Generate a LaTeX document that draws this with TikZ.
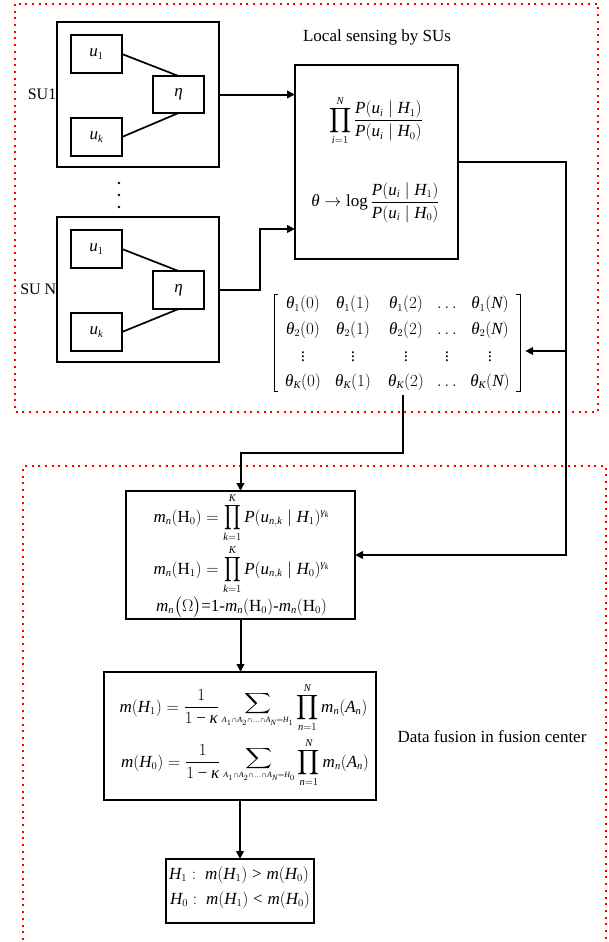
\RequirePackage{fix-cm}
\documentclass[tikz,border=0pt]{standalone}
\usepackage{amsmath}
\usepackage{graphicx}
\usepackage{fontspec}
\setmainfont{Liberation Serif}
\newfontfamily\libser{Liberation Serif}[NFSSFamily=libser]
\DeclareSymbolFont{tlet}{TU}{libser}{m}{it}
\DeclareSymbolFont{trm}{TU}{libser}{m}{n}
\DeclareMathSizes{17}{17}{10.5}{8}
\makeatletter
\count@=`a
\loop \Umathcode\count@="7 \symtlet \count@ \ifnum\count@<`z \advance\count@ 1 \repeat
\count@=`A
\loop \Umathcode\count@="7 \symtlet \count@ \ifnum\count@<`Z \advance\count@ 1 \repeat
\count@=`0
\loop \Umathcode\count@="7 \symtrm \count@ \ifnum\count@<`9 \advance\count@ 1 \repeat
\makeatother
\Umathcode`(="4 \symtrm `(
\Umathcode`)="5 \symtrm `)
\Umathcode`=="3 \symtrm `=
\Umathcode`<="3 \symtrm `<
\Umathcode`>="3 \symtrm `>
\Umathcode`-="2 \symtrm "2212
\Umathchardef\theta="0 \symtlet "03B8
\Umathchardef\eta="0 \symtlet "03B7
\Umathchardef\kappa="0 \symtlet "03BA
\Umathchardef\gamma="0 \symtlet "03B3
\Umathchardef\Omega="0 \symtrm "03A9
\Umathchardef\cap="2 \symtrm "2229
% operator with limits stacked: size, xscale, op, lower, upper
\newcommand{\myopstack}[5]{\mathop{\vcenter{\offinterlineskip\halign{\hfil##\hfil\cr%
$\scriptstyle #5$\cr\noalign{\kern2pt}%
{\fontsize{#1}{#1}\selectfont\scalebox{#2}[1]{$\displaystyle#3$}}\cr\noalign{\kern2pt}%
$\scriptstyle #4$\cr}}}}
\usetikzlibrary{arrows.meta}
\begin{document}
\begin{tikzpicture}[x=1pt,y=-1pt,
  box/.style={draw, line width=2pt, inner sep=0pt, outer sep=0pt},
  conn/.style={line width=2pt},
  arr/.style={conn, -{Triangle[length=8pt,width=7.5pt]}},
  link/.style={line width=1.7pt},
  redbox/.style={draw=red, line width=2pt, dash pattern=on 2pt off 4.7pt},
  lbl/.style={font=\fontsize{17}{20}\selectfont, inner sep=0pt},
  sulbl/.style={font=\fontsize{16}{19}\selectfont, inner sep=0.5pt, anchor=east},
  fml/.style={font=\fontsize{17}{20}\selectfont, inner sep=0pt, anchor=base},
  ubox/.style={box, font=\fontsize{17}{20}\selectfont, minimum width=51pt, minimum height=38pt},
  ent/.style={font=\fontsize{17}{20}\selectfont, inner sep=0pt, anchor=base},
  bracket/.style={line width=0.9pt}
]
\useasboundingbox (0,0) rectangle (609,942);

% red dotted regions
\draw[redbox] (15,4) rectangle (598,412);
\draw[redbox] (23,960) -- (23,466) -- (606,466) -- (606,960);

% labels
\node[lbl] (loc) at (377,37) {Local sensing by SUs};
\node[lbl] (dfl) at (492,737) {Data fusion in fusion center};

% SU 1
\node[box, minimum width=162pt, minimum height=145pt] (su1) at (138,94.5) {};
\node[ubox] (su1u1) at (96.5,54) {$u_1$};
\node[ubox] (su1uk) at (96.5,137) {$u_k$};
\node[ubox, minimum height=37pt] (su1eta) at (178.5,94.5) {$\eta$};
\draw[link] (su1u1.east) -- (su1eta.north);
\draw[link] (su1uk.east) -- (su1eta.south);
\node[sulbl] (su1l) at (su1.west) {SU1};

% dots
\fill (119,183) circle (1.4pt);
\fill (119,195) circle (1.4pt);
\fill (119,207) circle (1.4pt);

% SU N
\node[box, minimum width=162pt, minimum height=145pt] (suN) at (138,289.5) {};
\node[ubox] (suNu1) at (96.5,249) {$u_1$};
\node[ubox] (suNuk) at (96.5,332) {$u_k$};
\node[ubox] (suNeta) at (178.5,290) {$\eta$};
\draw[link] (suNu1.east) -- (suNeta.north);
\draw[link] (suNuk.east) -- (suNeta.south);
\node[sulbl] (suNl) at (suN.west) {SU N};

% big box
\node[box, minimum width=163pt, minimum height=194pt] (bb) at (376.5,162) {};
\node[fml] (f1) at (376,125) {$\myopstack{16}{1}{\prod}{i=1}{N}\dfrac{P(u_i\mid H_1)}{P(u_i\mid H_0)}$};
\node[fml] (f2) at (375.5,206.5) {$\theta\rightarrow\log\dfrac{P(u_i\mid H_1)}{P(u_i\mid H_0)}$};
\coordinate (bbin2) at (295,229);

% matrix
\node[minimum width=256pt, minimum height=97pt, inner sep=0pt] (mat) at (397,342.5) {};
\node[ent] (m11) at (303,308.5) {$\theta_1(0)$};
\node[ent] (m12) at (353,308.5) {$\theta_1(1)$};
\node[ent] (m13) at (406,308.5) {$\theta_1(2)$};
\node[ent] (m14) at (447,308.5) {$\ldots$};
\node[ent] (m15) at (490,308.5) {$\theta_1(N)$};
\node[ent] (m21) at (303,334) {$\theta_2(0)$};
\node[ent] (m22) at (353,334) {$\theta_2(1)$};
\node[ent] (m23) at (406,334) {$\theta_2(2)$};
\node[ent] (m24) at (447,334) {$\ldots$};
\node[ent] (m25) at (490,334) {$\theta_2(N)$};
\node[ent, anchor=center] (m31) at (303,354) {$\vdots$};
\node[ent, anchor=center] (m32) at (353,354) {$\vdots$};
\node[ent, anchor=center] (m33) at (406,354) {$\vdots$};
\node[ent, anchor=center] (m34) at (447,354) {$\vdots$};
\node[ent, anchor=center] (m35) at (490,354) {$\vdots$};
\node[ent] (m41) at (303,386) {$\theta_K(0)$};
\node[ent] (m42) at (353,386) {$\theta_K(1)$};
\node[ent] (m43) at (406,386) {$\theta_K(2)$};
\node[ent] (m44) at (447,386) {$\ldots$};
\node[ent] (m45) at (490,386) {$\theta_K(N)$};
\draw[bracket] (278,294) -- (274,294) -- (274,391) -- (278,391);
\draw[bracket] (516,294) -- (520,294) -- (520,391) -- (516,391);
\coordinate (mb) at (403,395);
\coordinate (jn) at (566,351);

% fusion boxes
\node[box, minimum width=229pt, minimum height=128pt] (fb1) at (240.5,555) {};
\node[fml] (g1) at (241.5,522) {$m_n(\mathrm{H}_0)=\myopstack{16}{0.75}{\prod}{k=1}{K}P(u_{n,k}\mid H_1)^{\gamma_k}$};
\node[fml] (g2) at (241.5,574) {$m_n(\mathrm{H}_1)=\myopstack{16}{0.75}{\prod}{k=1}{K}P(u_{n,k}\mid H_0)^{\gamma_k}$};
\node[fml] (g3) at (241.5,611) {$m_n\big(\Omega\big)$=1-$m_n(\mathrm{H}_0)$-$m_n(\mathrm{H}_0)$};

\node[box, minimum width=272pt, minimum height=128pt] (fb2) at (240,736) {};
\node[fml] (h1) at (243.5,712) {$m(H_1)=\dfrac{1}{1-\kappa}\myopstack{14}{1.3}{\sum}{\scriptscriptstyle A_1\cap A_2\cap\ldots\cap A_N=H_1}{}\myopstack{16}{1}{\prod}{n=1}{N}m_n(A_n)$};
\node[fml] (h2) at (245,767) {$m(H_0)=\dfrac{1}{1-\kappa}\myopstack{14}{1.3}{\sum}{\scriptscriptstyle A_1\cap A_2\cap\ldots\cap A_N=H_0}{}\myopstack{16}{1}{\prod}{n=1}{N}m_n(A_n)$};

\node[box, minimum width=148pt, minimum height=64pt] (fb3) at (240,891) {};
\node[fml] (d1) at (239,879) {$H_1:\ m(H_1)>m(H_0)$};
\node[fml] (d2) at (240,904) {$H_0:\ m(H_1)<m(H_0)$};

% connectors
\draw[arr] (su1.east) -- (bb.west |- su1.east);
\draw[arr] (suN.east) -- ++(41,0) |- (bbin2);
\draw[arr] (bb.east) -- ++(108,0) |- (fb1.east);
\draw[arr] (jn) -- (mat.east |- jn);
\draw[arr] (mb) -- ++(0,58) -| (fb1.north);
\draw[arr] (fb1.south) -- (fb1.south |- fb2.north);
\draw[arr] (fb2.south) -- (fb3.north);
\end{tikzpicture}
\end{document}
